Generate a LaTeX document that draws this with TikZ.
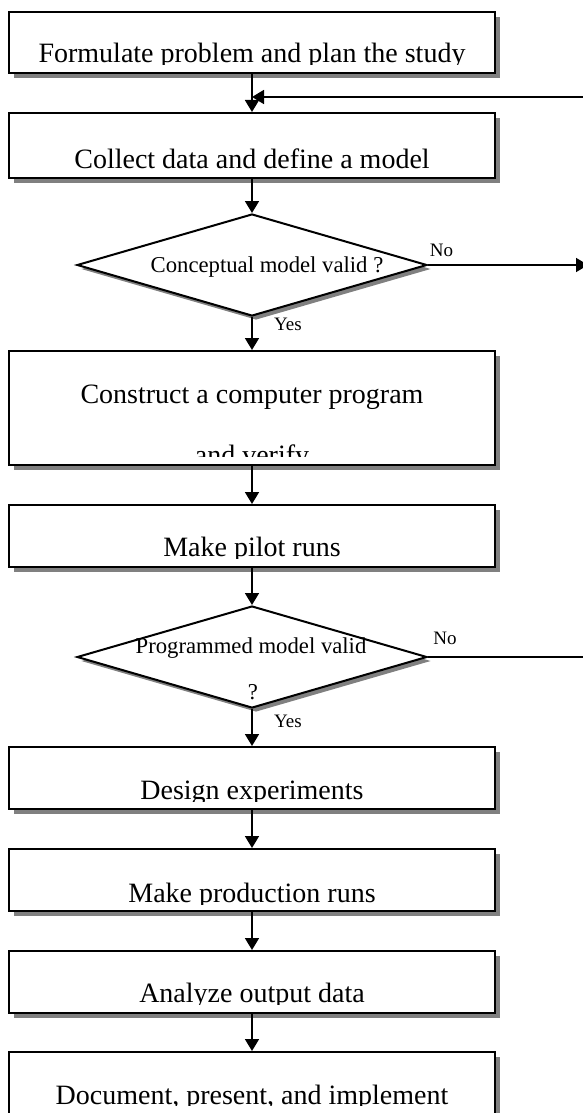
\documentclass[tikz,border=0pt]{standalone}
\usepackage{fontspec}
\setmainfont{Liberation Serif}
\usetikzlibrary{arrows.meta,shapes.geometric,shadows}

% box name, label name, baseline above box bottom, clip line above box bottom, text
\newcommand{\steptext}[5]{%
  \begin{scope}
    \clip (#1.north west) rectangle ([yshift=#4pt]#1.south east);
    \node[steplabel] (#2) at ([yshift=#3pt]#1.south) {#5};
  \end{scope}}

\begin{document}
\begin{tikzpicture}[x=1pt,y=-1pt,
    stepbox/.style={draw, line width=2pt, fill=white, minimum width=486pt, inner sep=0pt,
      drop shadow={shadow xshift=5pt, shadow yshift=-5pt, fill=black!50, opacity=1}},
    testbox/.style={diamond, aspect=3.43, draw, line width=2pt, fill=white, minimum width=350pt,
      minimum height=102pt, inner sep=0pt,
      drop shadow={shadow xshift=4pt, shadow yshift=-4pt, fill=black!50, opacity=1}},
    steplabel/.style={anchor=base, inner sep=0pt, font=\fontsize{28}{32}\selectfont},
    testlabel/.style={anchor=base, inner sep=0pt, font=\fontsize{22.7}{26}\selectfont},
    answer/.style={anchor=base, inner sep=0pt, font=\fontsize{19}{22}\selectfont},
    flow/.style={line width=1.8pt, -{Triangle[length=12pt,width=14pt]}},
    plain/.style={line width=1.8pt}]
    \useasboundingbox (0,0) rectangle (583,1113);
    \clip (0,0) rectangle (583,1113);

    % steps
    \node[stepbox, minimum height=61pt] (formulate) at (252,42.5) {};
    \steptext{formulate}{formulate-text}{11}{9}{Formulate problem and plan the study}
    \node[stepbox, minimum height=65pt] (collect) at (252,145.5) {};
    \steptext{collect}{collect-text}{11}{9}{Collect data and define a model}
    \node[testbox] (concept) at (252,265) {};
    \node[testlabel] (concept-text) at (267,272) {Conceptual model valid ?};
    \node[stepbox, minimum height=114pt] (construct) at (252,408) {};
    \steptext{construct}{construct-text}{63}{0}{Construct a computer program}
    \steptext{construct}{verify-text}{2}{10}{and verify}
    \node[stepbox, minimum height=62pt] (pilot) at (252,536) {};
    \steptext{pilot}{pilot-text}{12}{10}{Make pilot runs}
    \node[testbox] (programmed) at (252,657) {};
    \node[testlabel] (programmed-text) at (251,653) {Programmed model valid};
    \node[testlabel] (programmed-mark) at (253,699) {?};
    \node[stepbox, minimum height=62pt] (design) at (252,778) {};
    \steptext{design}{design-text}{11}{9}{Design experiments}
    \node[stepbox, minimum height=62pt] (production) at (252,880) {};
    \steptext{production}{production-text}{10}{8}{Make production runs}
    \node[stepbox, minimum height=62pt] (analyze) at (252,982) {};
    \steptext{analyze}{analyze-text}{12}{10}{Analyze output data}
    \node[stepbox, minimum height=66pt] (document) at (252,1085) {};
    \steptext{document}{document-text}{15}{14}{Document, present, and implement}

    % answers
    \node[answer] (concept-no) at (441.5,256) {No};
    \node[answer] (concept-yes) at (288,330) {Yes};
    \node[answer] (programmed-no) at (445,644) {No};
    \node[answer] (programmed-yes) at (288,727) {Yes};

    % flow between steps
    \draw[flow] (formulate.south) -- (collect.north);
    \draw[flow] (collect.south) -- (concept.north);
    \draw[flow] (concept.south) -- (construct.north);
    \draw[flow] (construct.south) -- (pilot.north);
    \draw[flow] (pilot.south) -- (programmed.north);
    \draw[flow] (programmed.south) -- (design.north);
    \draw[flow] (design.south) -- (production.north);
    \draw[flow] (production.south) -- (analyze.north);
    \draw[flow] (analyze.south) -- (document.north);

    % way back and the two exits
    \coordinate (loop-in) at (583,97);
    \draw[flow] (loop-in) -- (loop-in -| formulate.south);
    \coordinate (concept-out) at (588,265);
    \draw[flow] (concept.east) -- (concept-out);
    \coordinate (programmed-out) at (588,657);
    \draw[plain] (programmed.east) -- (programmed-out);
\end{tikzpicture}
\end{document}
